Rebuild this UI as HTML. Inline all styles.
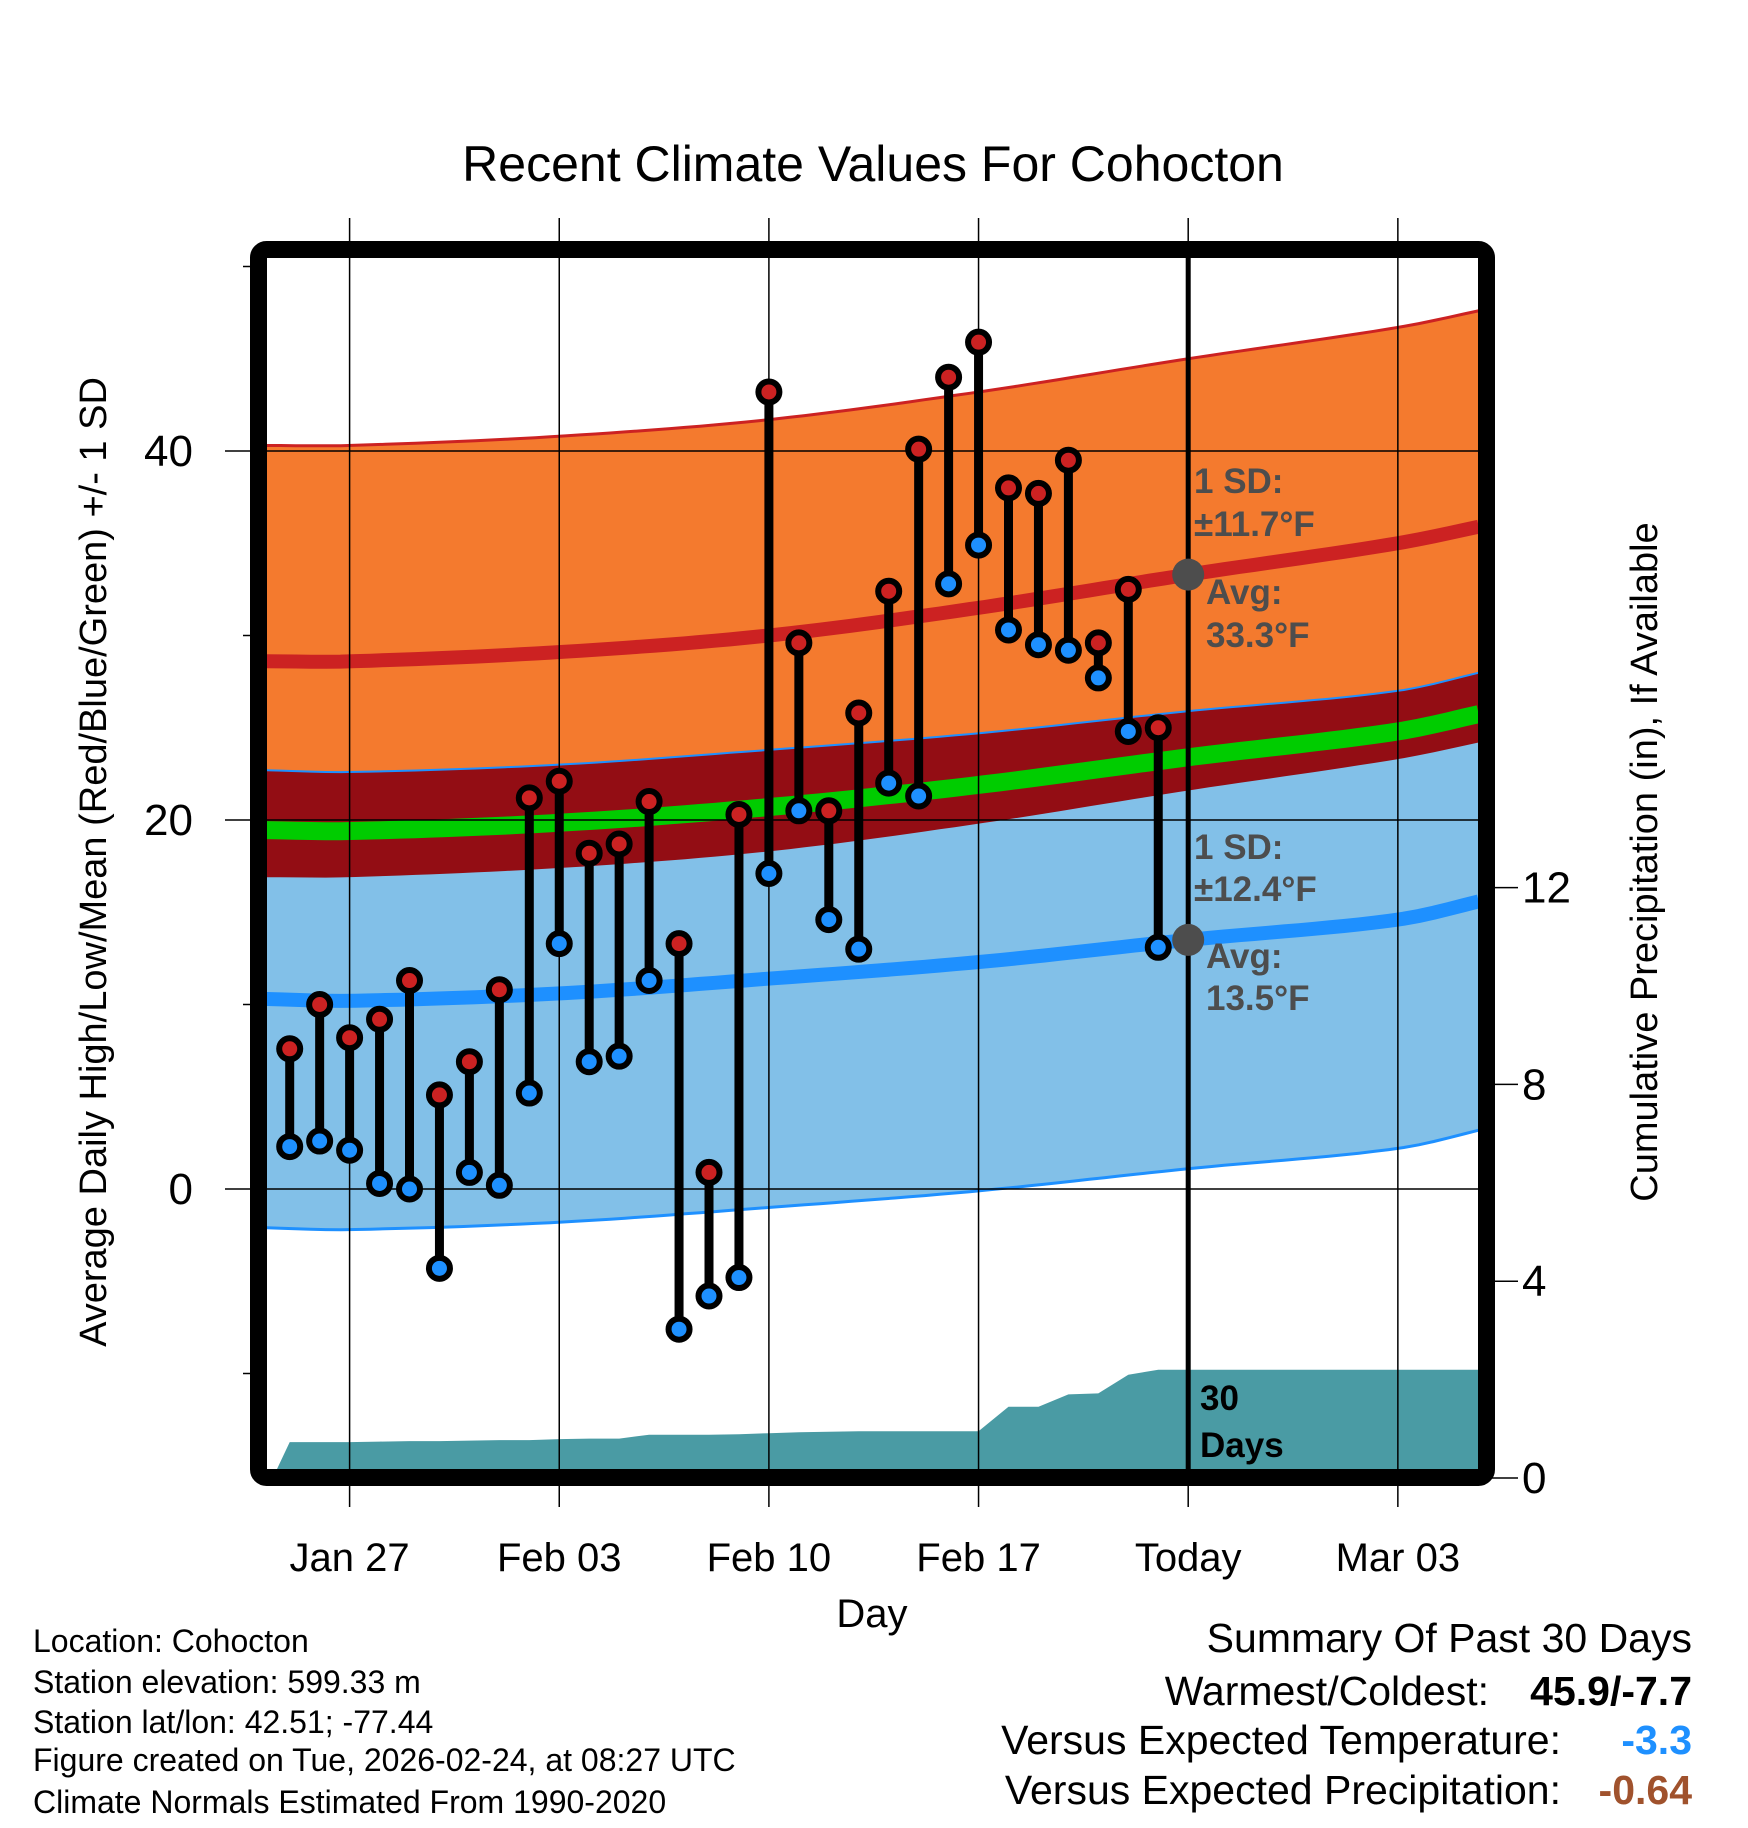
<!DOCTYPE html>
<html><head><meta charset="utf-8"><style>
html,body{margin:0;padding:0;background:#fff;}
svg{display:block;font-family:"Liberation Sans",sans-serif;}
</style></head><body>
<svg id="c" width="1748" height="1828" viewBox="0 0 1748 1828">
<defs><clipPath id="plotclip"><rect x="267" y="258" width="1211" height="1211"/></clipPath></defs>
<g id="bands" clip-path="url(#plotclip)"></g>
<g id="grid"></g>
<g id="marks"></g>
<rect x="258.5" y="249.5" width="1228" height="1228" rx="8" fill="none" stroke="#000" stroke-width="17"/>
<text x="873" y="181" font-size="50" text-anchor="middle">Recent Climate Values For Cohocton</text>
<text x="872" y="1627" font-size="40" text-anchor="middle">Day</text>
<text transform="translate(106,862) rotate(-90)" font-size="38" text-anchor="middle">Average Daily High/Low/Mean (Red/Blue/Green) +/- 1 SD</text>
<text transform="translate(1657,862) rotate(-90)" font-size="38" text-anchor="middle">Cumulative Precipitation (in), If Available</text>
<g font-size="32" fill="#000">
<text x="33" y="1652">Location: Cohocton</text>
<text x="33" y="1693">Station elevation: 599.33 m</text>
<text x="33" y="1733">Station lat/lon: 42.51; -77.44</text>
<text x="33" y="1771">Figure created on Tue, 2026-02-24, at 08:27 UTC</text>
<text x="33" y="1813">Climate Normals Estimated From 1990-2020</text>
</g>
<g font-size="41" text-anchor="end">
<text x="1692" y="1652">Summary Of Past 30 Days</text>
<text x="1489" y="1705">Warmest/Coldest:</text>
<text x="1692" y="1705" font-weight="bold">45.9/-7.7</text>
<text x="1561" y="1754">Versus Expected Temperature:</text>
<text x="1692" y="1754" font-weight="bold" fill="#1e90ff">-3.3</text>
<text x="1561" y="1804">Versus Expected Precipitation:</text>
<text x="1692" y="1804" font-weight="bold" fill="#a0522d">-0.64</text>
</g>
</svg>
<script>
// data
const highs=[7.6,10.0,8.2,9.2,11.3,5.1,6.9,10.8,21.2,22.1,18.2,18.7,21.0,13.3,0.9,20.3,43.2,29.6,20.5,25.8,32.4,40.1,44.0,45.9,38.0,37.7,39.5,29.6,32.5,25.0];
const lows=[2.3,2.6,2.1,0.3,0.0,-4.3,0.9,0.2,5.2,13.3,6.9,7.2,11.3,-7.6,-5.8,-4.8,17.1,20.5,14.6,13.0,22.0,21.3,32.8,34.9,30.3,29.5,29.2,27.7,24.8,13.1];
const precip=[0.73,0.73,0.73,0.74,0.75,0.75,0.76,0.77,0.77,0.79,0.80,0.80,0.88,0.88,0.88,0.89,0.91,0.93,0.94,0.95,0.95,0.95,0.95,0.95,1.45,1.45,1.70,1.72,2.10,2.20];
const normDays=[-2.8,0,7,14,21,28,35,38];
const normHigh=[28.6,28.6,29.1,30.0,31.5,33.3,35.0,36.0];
const normLow=[10.3,10.2,10.6,11.4,12.3,13.5,14.6,15.7];
const highSD=11.7, lowSD=12.4;
const tickDays=[0,7,14,21,28,35];
const tickLabels=["Jan 27","Feb 03","Feb 10","Feb 17","Today","Mar 03"];
const yTicks=[0,20,40];
const yMinor=[-10,10,30,50];
const pTicks=[0,4,8,12];
const firstDay=-2, todayDay=28;

const X=d=>349.6+d*29.95;
const Y=t=>1189-t*18.45;
const P=p=>1478-p*49.2;
const NS="http://www.w3.org/2000/svg";
function mk(tag,parent,attrs){const e=document.createElementNS(NS,tag);for(const k in attrs)e.setAttribute(k,attrs[k]);parent.appendChild(e);return e;}
// Catmull-Rom interpolation
function interp(arr,d){
  const n=normDays.length;
  let i=0;while(i<n-2&&d>normDays[i+1])i++;
  const x0=normDays[i],x1=normDays[i+1];
  const t=Math.max(0,Math.min(1,(d-x0)/(x1-x0)));
  const p0=arr[Math.max(0,i-1)],p1=arr[i],p2=arr[i+1],p3=arr[Math.min(n-1,i+2)];
  const h=x1-x0;
  const m1=i>0?(p2-p0)/(normDays[i+1]-normDays[i-1])*h:(p2-p1);
  const m2=i+2<n?(p3-p1)/(normDays[i+2]-normDays[i])*h:(p2-p1);
  const t2=t*t,t3=t2*t;
  return (2*t3-3*t2+1)*p1+(t3-2*t2+t)*m1+(-2*t3+3*t2)*p2+(t3-t2)*m2;
}
const samp=[];for(let d=normDays[0];d<=normDays[normDays.length-1]+0.001;d+=0.5)samp.push(d);
function curve(fn){return samp.map(d=>X(d).toFixed(1)+","+Y(fn(d)).toFixed(1));}
function band(lo,hi){return curve(hi).concat(curve(lo).reverse()).join(" ");}
const bands=document.getElementById('bands');
const hm=d=>interp(normHigh,d), lm=d=>interp(normLow,d);
let e;
e=mk('polygon',bands,{points:band(d=>hm(d)-highSD,d=>hm(d)+highSD),fill:'#f47a2e'});

e=mk('polygon',bands,{points:band(d=>lm(d)-lowSD,d=>lm(d)+lowSD),fill:'#82c0e8'});

e=mk('polygon',bands,{points:band(d=>hm(d)-highSD,d=>lm(d)+lowSD),fill:'#930d14'});

e=mk('polyline',bands,{points:curve(d=>hm(d)+highSD).join(" "),fill:'none',stroke:'#cc2222',"stroke-width":3});

e=mk('polyline',bands,{points:curve(d=>lm(d)+lowSD).join(" "),fill:'none',stroke:'#1e90ff',"stroke-width":2});

e=mk('polyline',bands,{points:curve(d=>lm(d)-lowSD).join(" "),fill:'none',stroke:'#1e90ff',"stroke-width":3});

e=mk('polyline',bands,{points:curve(d=>(hm(d)+lm(d))/2).join(" "),fill:'none',stroke:'#00cc00',"stroke-width":18});

e=mk('polyline',bands,{points:curve(hm).join(" "),fill:'none',stroke:'#cc2222',"stroke-width":14});

e=mk('polyline',bands,{points:curve(lm).join(" "),fill:'none',stroke:'#1e90ff',"stroke-width":14});

// precip area
let pp=[X(-2.72)+","+P(-0.2)];
precip.forEach((v,i)=>{pp.push(X(firstDay+i).toFixed(1)+","+P(v).toFixed(1));});
pp.push(X(38)+","+P(precip[precip.length-1]));pp.push(X(38)+","+P(-0.5));pp.push(X(-2.72)+","+P(-0.5));
e=mk('polygon',bands,{points:pp.join(" "),fill:'#4a9ba4'});


// grid
const grid=document.getElementById('grid');
tickDays.forEach((d,i)=>{
  e=mk('line',grid,{x1:X(d),x2:X(d),y1:218,y2:1507,stroke:'#000',"stroke-width":1.5});
  
  e=mk('text',grid,{x:X(d),y:1571,"font-size":40,"text-anchor":"middle"});e.textContent=tickLabels[i];
  
});
yTicks.forEach(t=>{
  e=mk('line',grid,{x1:225,x2:1478,y1:Y(t),y2:Y(t),stroke:'#000',"stroke-width":1.5});
  
  e=mk('text',grid,{x:193,y:Y(t)+15,"font-size":44,"text-anchor":"end"});e.textContent=t;
  
});
yMinor.forEach(t=>{
  e=mk('line',grid,{x1:243,x2:260,y1:Y(t),y2:Y(t),stroke:'#000',"stroke-width":1.5});
  
});
pTicks.forEach(p=>{
  e=mk('line',grid,{x1:1490,x2:1518,y1:P(p),y2:P(p),stroke:'#000',"stroke-width":1.5});
  
  e=mk('text',grid,{x:1522,y:P(p)+15,"font-size":44});e.textContent=p;
  
});

// marks
const marks=document.getElementById('marks');
e=mk('line',marks,{x1:X(todayDay),x2:X(todayDay),y1:258,y2:1470,stroke:'#000',"stroke-width":5});

highs.forEach((h,i)=>{
  const x=X(firstDay+i);
  e=mk('line',marks,{x1:x,x2:x,y1:Y(h),y2:Y(lows[i]),stroke:'#000',"stroke-width":9});
  
});
highs.forEach((h,i)=>{
  const x=X(firstDay+i);
  e=mk('circle',marks,{cx:x,cy:Y(h),r:10.5,fill:'#cc2222',stroke:'#000',"stroke-width":6});
  
  e=mk('circle',marks,{cx:x,cy:Y(lows[i]),r:10.5,fill:'#1e90ff',stroke:'#000',"stroke-width":6});
  
});
e=mk('circle',marks,{cx:X(todayDay),cy:Y(hm(todayDay)),r:16,fill:'#4d4d4d'});

e=mk('circle',marks,{cx:X(todayDay),cy:Y(lm(todayDay)),r:16,fill:'#4d4d4d'});

const ann=[[1194,493,"1 SD:"],[1194,536,"±11.7°F"],[1206,604,"Avg:"],[1206,647,"33.3°F"],[1194,859,"1 SD:"],[1194,901,"±12.4°F"],[1206,968,"Avg:"],[1206,1010,"13.5°F"]];
ann.forEach(a=>{
  e=mk('text',marks,{x:a[0],y:a[1],"font-size":35,"font-weight":"bold",fill:'#4d4d4d'});e.textContent=a[2];
  
});
e=mk('text',marks,{x:1200,y:1410,"font-size":35,"font-weight":"bold"});e.textContent="30";

e=mk('text',marks,{x:1200,y:1457,"font-size":35,"font-weight":"bold"});e.textContent="Days";

</script>
</body></html>
